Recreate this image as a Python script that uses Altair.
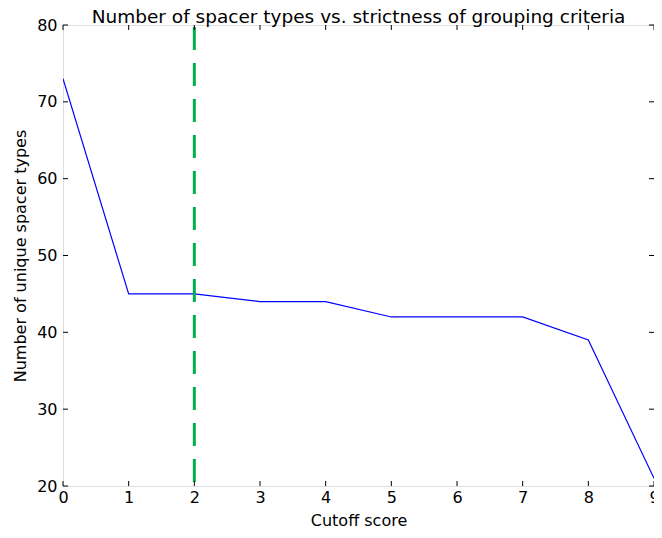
import altair as alt
import pandas as pd

cutoff = [0, 1, 2, 3, 4, 5, 6, 7, 8, 9]
unique_types = [73, 45, 45, 44, 44, 42, 42, 42, 39, 21]
chosen_cutoff = [2]
x_ticks = [0, 1, 2, 3, 4, 5, 6, 7, 8, 9]
y_ticks = [20, 30, 40, 50, 60, 70, 80]

W, H = 591, 461
FONT = "DejaVu Sans"

df = pd.DataFrame({"cutoff": cutoff, "types": unique_types})
vdf = pd.DataFrame({"cutoff": chosen_cutoff})
xt = pd.DataFrame({"t": x_ticks})
yt = pd.DataFrame({"t": y_ticks})

xscale = alt.Scale(domain=[0, 9], nice=False, zero=False)
yscale = alt.Scale(domain=[20, 80], nice=False, zero=False)

xaxis = alt.Axis(values=x_ticks, format="d", title="Cutoff score", grid=False,
                 ticks=False, domain=False, labelFontSize=16, titleFontSize=16,
                 labelFont=FONT, titleFont=FONT, labelColor="black",
                 titleColor="black", labelPadding=3, titlePadding=7,
                 titleFontWeight="normal", labelFlush=False, labelOverlap=False)
yaxis = alt.Axis(values=y_ticks, format="d", title="Number of unique spacer types",
                 grid=False, ticks=False, domain=False, labelFontSize=16,
                 titleFontSize=16, labelFont=FONT, titleFont=FONT,
                 labelColor="black", titleColor="black", labelPadding=6,
                 titlePadding=8, titleFontWeight="normal", labelFlush=False,
                 labelOverlap=False)

line = alt.Chart(df).mark_line(color="#0000ff", strokeWidth=1.2, clip=True).encode(
    x=alt.X("cutoff:Q", scale=xscale, axis=xaxis),
    y=alt.Y("types:Q", scale=yscale, axis=yaxis),
)

vline = alt.Chart(vdf).mark_rule(color="#00b050", strokeWidth=3,
                                 strokeDash=[23, 13]).encode(
    x=alt.X("cutoff:Q", scale=xscale),
    y=alt.value(2),
    y2=alt.value(H),
)

tb = alt.Chart(xt).mark_rule(color="black", strokeWidth=1).encode(
    x=alt.X("t:Q", scale=xscale), y=alt.value(H), y2=alt.value(H - 5))
tt = alt.Chart(xt).mark_rule(color="black", strokeWidth=1).encode(
    x=alt.X("t:Q", scale=xscale), y=alt.value(0), y2=alt.value(5))
tl = alt.Chart(yt).mark_rule(color="black", strokeWidth=1).encode(
    y=alt.Y("t:Q", scale=yscale), x=alt.value(0), x2=alt.value(5))
tr = alt.Chart(yt).mark_rule(color="black", strokeWidth=1).encode(
    y=alt.Y("t:Q", scale=yscale), x=alt.value(W), x2=alt.value(W - 5))

chart = alt.layer(line, vline, tb, tt, tl, tr).properties(
    width=W, height=H,
    title=alt.TitleParams("Number of spacer types vs. strictness of grouping criteria",
                          fontSize=18.5, font=FONT, fontWeight="normal", color="black",
                          anchor="middle", offset=-9),
    autosize=alt.AutoSizeParams(type="none"),
    padding={"left": 55, "top": 17, "right": 0, "bottom": 44},
).configure_view(stroke="black", strokeWidth=1).configure(background="white")

chart.save("out.html", embed_options={"renderer": "svg", "actions": False})
